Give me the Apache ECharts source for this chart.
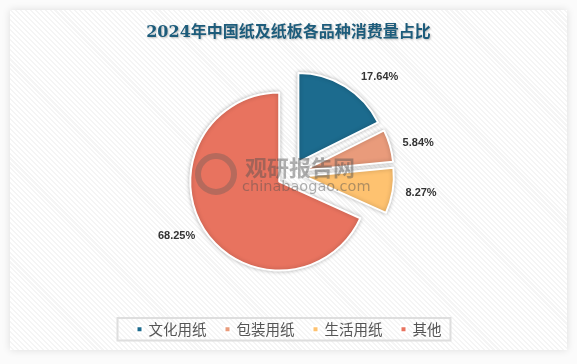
<!DOCTYPE html>
<html>
<head>
<meta charset="utf-8">
<script src="https://cdn.jsdelivr.net/npm/echarts@6/dist/echarts.min.js"></script>
<style>
  html, body { margin: 0; padding: 0; background: #ffffff; }
  #wrap { position: relative; width: 577px; height: 364px; overflow: hidden; background: #fbfbfb; }
  #panel {
    position: absolute; left: 10px; top: 10px; width: 557px; height: 340px;
    background-color: #ffffff;
    background-image: repeating-linear-gradient(45deg, #ffffff 0px, #ffffff 2px, #f5f5f5 2px, #f5f5f5 3.5px);
    box-shadow: 0 0 8px rgba(0,0,0,0.12);
  }
  #chart { position: absolute; left: 0; top: 0; width: 577px; height: 364px; }
</style>
</head>
<body>
<div id="wrap">
  <div id="panel"></div>
  <div id="chart"></div>
</div>
<script>
const titleText = '2024年中国纸及纸板各品种消费量占比';
const categories = ['文化用纸', '包装用纸', '生活用纸', '其他'];
const values = [17.64, 5.84, 8.27, 68.25];
const colors = ['#1c6b8e', '#e99b7b', '#fec270', '#e8735f'];
const labelGaps = [10, 2, 2, 0];

const chart = echarts.init(document.getElementById('chart'), null, { renderer: 'canvas' });

const data = categories.map((name, i) => ({
  name: name,
  value: values[i],
  selected: true,
  itemStyle: { color: colors[i] },
  label: { distanceToLabelLine: labelGaps[i] }
}));

chart.setOption({
  backgroundColor: 'transparent',
  animation: false,
  title: {
    text: titleText,
    left: 'center',
    top: 20,
    textStyle: {
      fontFamily: 'DejaVu Serif, "Noto Sans CJK SC", serif',
      fontSize: 16,
      fontWeight: 'bold',
      color: '#1d5c7b',
      textShadowColor: 'rgba(0,0,0,0.25)',
      textShadowBlur: 2,
      textShadowOffsetX: 1,
      textShadowOffsetY: 1
    }
  },
  legend: {
    data: categories,
    left: 'center',
    top: 318,
    icon: 'rect',
    itemWidth: 6,
    itemHeight: 6,
    itemGap: 17,
    padding: [4, 9, 4, 18],
    borderColor: '#dedede',
    borderWidth: 2,
    selectedMode: false,
    textStyle: {
      fontFamily: '"Noto Sans CJK SC", sans-serif',
      fontSize: 14.5,
      color: '#555555',
      padding: [0, 0, 0, 1]
    }
  },
  graphic: [
    {
      type: 'circle',
      z: 100,
      shape: { cx: 216, cy: 174, r: 18 },
      style: { fill: 'none', stroke: 'rgba(90,90,90,0.35)', lineWidth: 6 }
    },
    {
      type: 'text',
      z: 100,
      left: 245,
      top: 157,
      style: {
        text: '观研报告网',
        fontFamily: '"Noto Sans CJK SC", sans-serif',
        fontSize: 22,
        fontWeight: 'bold',
        fill: 'rgba(80,80,80,0.45)'
      }
    },
    {
      type: 'text',
      z: 100,
      left: 242,
      top: 180,
      style: {
        text: 'chinabaogao.com',
        fontFamily: '"DejaVu Sans", sans-serif',
        fontSize: 14.5,
        fill: 'rgba(80,80,80,0.45)'
      }
    }
  ],
  series: [
    {
      type: 'pie',
      center: [291, 174],
      radius: 89,
      startAngle: 90,
      clockwise: true,
      selectedMode: 'multiple',
      selectedOffset: 14,
      avoidLabelOverlap: false,
      itemStyle: {
        borderColor: '#ffffff',
        borderWidth: 2,
        shadowBlur: 4,
        shadowColor: 'rgba(0,0,0,0.25)'
      },
      label: {
        show: true,
        position: 'outside',
        formatter: p => p.value.toFixed(2) + '%',
        fontFamily: '"Liberation Sans", Arial, sans-serif',
        fontSize: 11,
        fontWeight: 'bold',
        color: '#333333'
      },
      labelLine: { show: false, length: 11, length2: 0 },
      emphasis: { disabled: true },
      select: { itemStyle: { borderColor: '#ffffff', borderWidth: 2 } },
      data: data
    }
  ]
});
</script>
</body>
</html>
